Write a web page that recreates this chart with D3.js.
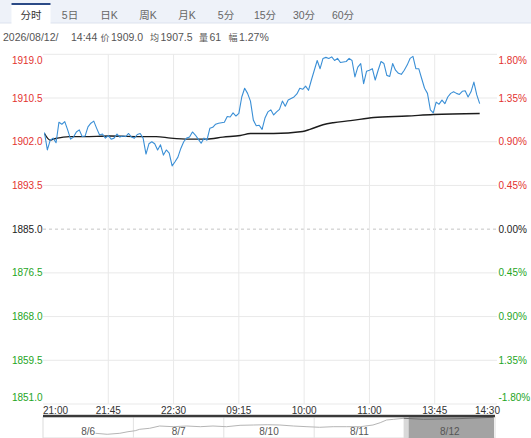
<!DOCTYPE html>
<html>
<head>
<meta charset="utf-8">
<script src="https://cdn.jsdelivr.net/npm/d3@7"></script>
<style>
  html, body { margin: 0; padding: 0; background: #fff; }
  svg { display: block; font-family: "Liberation Sans", Arial, "Noto Sans CJK SC", sans-serif; }
</style>
</head>
<body>
<div id="chart"></div>
<script>
// ---- data ----
const tabs = ["分时", "5日", "日K", "周K", "月K", "5分", "15分", "30分", "60分"];
const activeTab = "分时";

const infoDate = "2026/08/12/";
const infoTime = "14:44";
const infoFields = [["价", "1909.0"], ["均", "1907.5"], ["量", "61"], ["幅", "1.27%"]];

const prevClose = 1885.0;
const priceTicks = [1919.0, 1910.5, 1902.0, 1893.5, 1885.0, 1876.5, 1868.0, 1859.5, 1851.0];
const pctLabels = ["1.80%", "1.35%", "0.90%", "0.45%", "0.00%", "0.45%", "0.90%", "1.35%", "-1.80%"];

// x axis: minutes since 21:00 (trading minutes only), one label every 45 min
const timeLabels = ["21:00", "21:45", "22:30", "09:15", "10:00", "11:00", "13:45", "14:30"];
const labelEvery = 45;

// price, sampled every 2 trading minutes from minute 1
const priceStart = 1, priceStep = 2;
const prices = [
  1903.8, 1900.4, 1902.3, 1902.7, 1901.8, 1905.8, 1905.4, 1905.9, 1904.3, 1902.5,
  1902.9, 1903.9, 1904.3, 1903.0, 1903.1, 1904.9, 1905.6, 1906.0,
  1904.6, 1903.3, 1903.5, 1902.7, 1903.2, 1902.5, 1902.7, 1903.5, 1902.9, 1903.1,
  1903.0, 1903.6, 1902.9, 1902.7, 1903.4, 1903.6, 1902.7, 1899.6, 1901.6, 1902.0,
  1901.6, 1900.4, 1901.4, 1899.4, 1900.4, 1899.8, 1897.3, 1898.1, 1899.0, 1900.7,
  1902.0, 1902.7, 1902.9,
  1903.9, 1903.3, 1902.5, 1901.7, 1902.7, 1902.3, 1904.6, 1904.8, 1905.4, 1905.6,
  1905.7, 1905.8, 1906.9, 1906.8, 1907.6, 1907.0, 1907.5, 1910.7, 1912.4, 1911.4,
  1909.9, 1906.2, 1905.1, 1905.2, 1904.4, 1906.6, 1907.8, 1908.2, 1907.2, 1907.8,
  1908.3, 1909.9, 1908.9, 1910.1, 1910.4,
  1910.7, 1911.3, 1912.4, 1912.2, 1912.8, 1912.0, 1914.0, 1915.9, 1917.8, 1916.2,
  1918.2, 1918.4, 1918.2, 1918.5, 1917.8, 1918.2, 1917.4, 1917.5, 1917.6, 1918.2,
  1917.8, 1914.6, 1916.5, 1917.2, 1913.3, 1915.7, 1915.9, 1916.2, 1914.0, 1915.9,
  1917.6, 1917.2, 1914.9, 1914.7,
  1917.2, 1915.9, 1915.3, 1915.1, 1915.9, 1916.9, 1918.2, 1918.6, 1916.2, 1916.2,
  1914.3, 1912.4, 1911.4, 1908.2, 1907.6, 1909.7, 1909.3, 1910.1, 1909.4, 1910.7,
  1911.4, 1911.7, 1911.4, 1911.2, 1911.8, 1911.9, 1910.7, 1911.7, 1913.6, 1911.1,
  1909.4
];

// average price line
const avgMinutes = [1, 5, 7, 10, 14, 18, 28, 46, 69, 78, 88, 101, 113, 124, 136, 143,
  159, 179, 184, 193, 200, 212, 228, 251, 269, 301];
const avgPrices = [1903.6, 1902.3, 1902.5, 1902.7, 1902.9, 1903.0, 1903.0, 1903.1, 1903.0,
  1903.0, 1902.7, 1902.5, 1902.5, 1902.9, 1903.2, 1903.6, 1903.6, 1904.0, 1904.4, 1905.3,
  1905.7, 1906.1, 1906.7, 1907.0, 1907.3, 1907.5];

// navigator (5 days overview)
const navDays = ["8/6", "8/7", "8/10", "8/11", "8/12"];
const navPos = [0.58, 0.71, 0.85, 0.94, 1.02, 1.07, 1.18, 1.29, 1.44, 1.59, 1.74, 1.88,
  2.03, 2.18, 2.33, 2.48, 2.62, 2.77, 2.92, 3.06, 3.21, 3.36, 3.51, 3.65, 3.73, 3.80,
  3.88, 3.99, 4.21, 4.58, 4.98];
const navPrices = [1860.0, 1856.3, 1860.0, 1865.8, 1869.5, 1874.7, 1878.4, 1886.8, 1884.3,
  1886.8, 1884.3, 1886.8, 1884.3, 1889.4, 1890.5, 1891.6, 1890.5, 1886.8, 1884.3, 1882.1,
  1884.3, 1884.3, 1884.3, 1890.5, 1899.0, 1908.9, 1911.5, 1915.2, 1911.5, 1913.7, 1918.9];

// ---- chart ----
const W = 531, H = 438;
const plot = {left: 43, right: 500, top: 54.3, bottom: 404};
const red = "#e3322f", green = "#1ea51e", dark = "#222";

const svg = d3.select("#chart").append("svg")
    .attr("width", W)
    .attr("height", H);

// tab bar
svg.append("rect")
    .attr("x", 0).attr("y", 0)
    .attr("width", W).attr("height", 23)
    .attr("fill", "#eef2f9");
svg.append("line")
    .attr("x1", 0).attr("x2", W)
    .attr("y1", 23).attr("y2", 23)
    .attr("stroke", "#dde3ee");

const tabX = d3.scalePoint().domain(tabs).range([31, 343]);
svg.append("rect")
    .attr("x", tabX(activeTab) - 19.5).attr("y", 3)
    .attr("width", 39).attr("height", 21)
    .attr("fill", "#fff");
svg.append("rect")
    .attr("x", tabX(activeTab) - 19.5).attr("y", 3)
    .attr("width", 39).attr("height", 2)
    .attr("fill", "#2b4a86");

svg.selectAll(".tab")
    .data(tabs)
    .join("text")
    .attr("class", "tab")
    .attr("x", d => tabX(d))
    .attr("y", 19)
    .attr("text-anchor", "middle")
    .attr("font-size", 10.5)
    .attr("fill", d => d === activeTab ? "#333" : "#666")
    .text(d => d);

// info line
const info = svg.append("g")
    .attr("font-size", 10.5)
    .attr("fill", "#555");
info.append("text").attr("x", 3).attr("y", 40.5).text(infoDate);
info.append("text").attr("x", 71).attr("y", 40.5).text(infoTime);
const infoX = [100.5, 150, 199, 228.5];
infoFields.forEach((f, i) => {
    info.append("text").attr("x", infoX[i]).attr("y", 40.5)
        .attr("font-size", 9).text(f[0]);
    info.append("text").attr("x", infoX[i] + 10.5).attr("y", 40.5).text(f[1]);
});

// scales
const sessionMinutes = (timeLabels.length - 1) * labelEvery;
const x = d3.scaleLinear().domain([0, sessionMinutes]).range([plot.left, plot.right]);
const y = d3.scaleLinear().domain(d3.extent(priceTicks)).range([plot.bottom, plot.top]);

const colorFor = v => v > prevClose ? red : (v < prevClose ? green : dark);

// horizontal grid
svg.selectAll(".hgrid")
    .data(priceTicks)
    .join("line")
    .attr("class", "hgrid")
    .attr("x1", plot.left).attr("x2", 497)
    .attr("y1", d => y(d)).attr("y2", d => y(d))
    .attr("stroke", d => d === prevClose ? "#c4c4c4" : "#e9e9e9")
    .attr("stroke-dasharray", d => d === prevClose ? "3,3" : null);

// vertical grid (inner ticks only)
const tickMinutes = timeLabels.map((t, i) => i * labelEvery);
svg.selectAll(".vgrid")
    .data(tickMinutes.slice(1, -1))
    .join("line")
    .attr("class", "vgrid")
    .attr("x1", d => x(d)).attr("x2", d => x(d))
    .attr("y1", plot.top).attr("y2", plot.bottom)
    .attr("stroke", "#e9e9e9");

// left price labels
const labelY = (d, i) => i === 0 ? y(d) + 9.5 : (i === priceTicks.length - 1 ? y(d) - 3.5 : y(d) + 3.6);
svg.selectAll(".ylab")
    .data(priceTicks)
    .join("text")
    .attr("class", "ylab")
    .attr("x", 42.5)
    .attr("y", labelY)
    .attr("text-anchor", "end")
    .attr("font-size", 10)
    .attr("fill", d => colorFor(d))
    .text(d => d.toFixed(1));

// right percent labels
svg.selectAll(".plab")
    .data(priceTicks)
    .join("text")
    .attr("class", "plab")
    .attr("x", 498.5)
    .attr("y", labelY)
    .attr("font-size", 10)
    .attr("fill", d => colorFor(d))
    .text((d, i) => pctLabels[i]);

// x labels
svg.selectAll(".xlab")
    .data(timeLabels)
    .join("text")
    .attr("class", "xlab")
    .attr("x", (d, i) => x(tickMinutes[i]))
    .attr("y", 414)
    .attr("font-size", 10)
    .attr("fill", "#333")
    .attr("text-anchor", (d, i) => i === 0 ? "start" : (i === timeLabels.length - 1 ? "end" : "middle"))
    .text(d => d);

// average line
const avgLine = d3.line()
    .x((d, i) => x(avgMinutes[i]))
    .y(d => y(d))
    .curve(d3.curveMonotoneX);
svg.append("path")
    .datum(avgPrices)
    .attr("d", avgLine)
    .attr("fill", "none")
    .attr("stroke", "#1c1c1c")
    .attr("stroke-width", 1.4);

// price line
const priceLine = d3.line()
    .x((d, i) => x(priceStart + i * priceStep))
    .y(d => y(d));
svg.append("path")
    .datum(prices)
    .attr("d", priceLine)
    .attr("fill", "none")
    .attr("stroke", "#3a8fd6")
    .attr("stroke-width", 1.1)
    .attr("stroke-linejoin", "round");

// navigator
const nav = {left: 43, right: 495, top: 417, bottom: 438};
const nx = d3.scaleLinear().domain([0, navDays.length]).range([nav.left, nav.right]);
const ny = d3.scaleLinear().domain([1850, 1920]).range([436, 417]);
const sel = navDays.length - 1;

svg.append("rect")
    .attr("x", nav.left).attr("y", nav.top)
    .attr("width", nav.right - nav.left).attr("height", nav.bottom - nav.top)
    .attr("fill", "#fff")
    .attr("stroke", "#dcdcdc");

svg.selectAll(".navsep")
    .data(d3.range(1, navDays.length))
    .join("line")
    .attr("class", "navsep")
    .attr("x1", d => nx(d)).attr("x2", d => nx(d))
    .attr("y1", nav.top).attr("y2", nav.bottom)
    .attr("stroke", "#e2e2e2");

// selected day window
svg.append("rect")
    .attr("x", nx(sel) - 1).attr("y", nav.top)
    .attr("width", 5).attr("height", nav.bottom - nav.top)
    .attr("fill", "#d9d9d9");
svg.append("rect")
    .attr("x", nx(sel) + 4).attr("y", nav.top)
    .attr("width", nx(sel + 1) - nx(sel) - 5).attr("height", nav.bottom - nav.top)
    .attr("fill", "#a3a3a3");

const navLine = d3.line().x(d => nx(d[0])).y(d => ny(d[1]));
const navPts = navPos.map((p, i) => [p, navPrices[i]]);
svg.append("path")
    .datum(navPts.filter(d => d[0] <= sel + 0.05))
    .attr("d", navLine)
    .attr("fill", "none")
    .attr("stroke", "#b5b5b5")
    .attr("stroke-width", 1);
svg.append("path")
    .datum(navPts.filter(d => d[0] >= sel - 0.05))
    .attr("d", navLine)
    .attr("fill", "none")
    .attr("stroke", "#6f6f6f")
    .attr("stroke-width", 1);

svg.selectAll(".navlab")
    .data(navDays)
    .join("text")
    .attr("class", "navlab")
    .attr("x", (d, i) => nx(i + 0.5))
    .attr("y", 435)
    .attr("text-anchor", "middle")
    .attr("font-size", 10)
    .attr("fill", "#555")
    .text(d => d);

// dark bar on top of the navigator
svg.append("rect")
    .attr("x", nav.left).attr("y", 414.8)
    .attr("width", nav.right - nav.left).attr("height", 2.4)
    .attr("fill", "#3a3a3a");
</script>
</body>
</html>
